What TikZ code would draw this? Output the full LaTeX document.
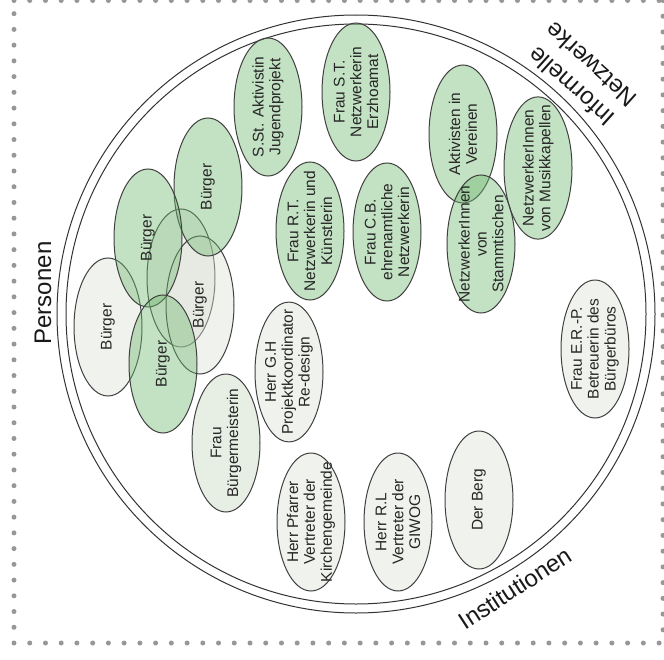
\documentclass[tikz,border=0pt]{standalone}
\usepackage{fontspec}
\setmainfont{Liberation Sans}
\usepackage{xcolor}
\usetikzlibrary{shapes.geometric}

\definecolor{netzgruen}{RGB}{111,183,111}
\definecolor{instgrau}{RGB}{219,224,212}
\definecolor{punktgrau}{RGB}{150,150,155}

\begin{document}
\begin{tikzpicture}[x=0.75pt, y=-0.75pt,
    netz/.style={ellipse, draw=black!75, line width=0.75pt, fill=netzgruen,
        fill opacity=0.42, text opacity=1, rotate=90, align=center,
        minimum width=103.5pt, minimum height=51pt, inner xsep=-10pt, inner ysep=-1.5pt,
        text=black!85, font=\fontsize{11.6}{12.6}\selectfont},
    inst/.style={netz, fill=instgrau},
    bereich/.style={text=black!90, font=\fontsize{18}{22}\selectfont, align=center}]
    \useasboundingbox (0,0) rectangle (664,660);

    % gepunkteter Rahmen
    \draw [punktgrau, line width=3.75pt, line cap=round, dash pattern=on 0pt off 11.8pt]
        (14,643) -- (14,0.5) (14,643) -- (664,643) (14,0.5) -- (664,0.5) (663,0.5) -- (663,643);

    % Doppelkreis
    \node (aussen) [circle, draw=black!80, line width=0.75pt, minimum size=448.5pt, inner sep=0pt] at (356,314) {};
    \node (innen) [circle, draw=black!80, line width=0.75pt, minimum size=435pt, inner sep=0pt] at (356,314) {};

    \node (personen) [bereich, rotate=90] at (43,293) {Personen};
    \node (institutionen) [bereich, rotate=33] at (515,588) {Institutionen};
    \node (informell) [bereich, rotate=138] at (581,76) {Informelle\\Netzwerke};

    % Buerger, die hellen zuerst
    \node (buergerC) [inst] at (181,278) {};
    \node (buergerD) [inst] at (200,305) {B\"urger};
    \node (buergerE) [inst] at (108,327) {B\"urger};
    \node (buergerA) [netz] at (208,187) {B\"urger};
    \node (buergerB) [netz] at (148,238) {B\"urger};
    \node (buergerF) [netz] at (163,364) {B\"urger};

    % informelle Netzwerke
    \node (aktivistin) [netz] at (268,107) {S.St. Aktivistin\\Jugendprojekt};
    \node (fraust) [netz] at (356,92) {Frau S.T.\\Netzwerkerin\\Erzhoamat};
    \node (fraurt) [netz] at (310,231) {Frau R.T.\\Netzwerkerin und\\K\"unstlerin};
    \node (fraucb) [netz] at (387,232) {Frau C.B.\\ehrenamtliche\\Netzwerkerin};
    \node (vereine) [netz] at (463,134) {Aktivisten in\\Vereinen};
    \node (stammtisch) [netz] at (481,244) {NetzwerkerInnen\\von\\Stammtischen};
    \node (musik) [netz] at (538,168) {NetzwerkerInnen\\von Musikkapellen};

    % Institutionen
    \node (herrgh) [inst] at (289,372) {Herr G.H\\Projektkoordinator\\Re-design};
    \node (fraubm) [inst, fill=instgrau!80!netzgruen] at (226,443) {Frau\\B\"urgermeisterin};
    \node (pfarrer) [inst] at (311,522) {Herr Pfarrer\\Vertreter der\\Kirchengemeinde};
    \node (herrrl) [inst] at (398,522) {Herr R.L\\Vertreter der\\GIWOG};
    \node (berg) [inst] at (479,500) {Der Berg};
    \node (frauerp) [inst] at (595,349) {Frau E.R.-P.\\Betreuerin des\\B\"urgerb\"uros};
\end{tikzpicture}
\end{document}
